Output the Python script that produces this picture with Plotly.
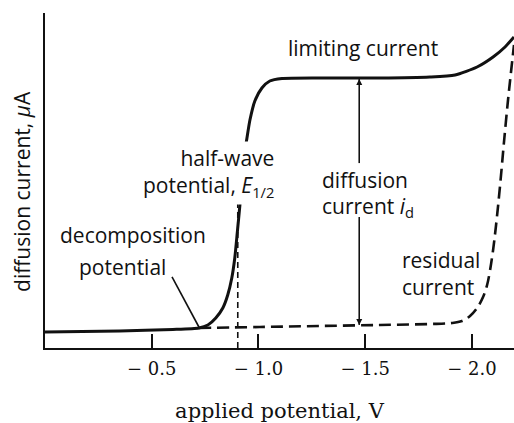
import plotly.graph_objects as go

# ---- data ----
# polarographic wave (solid): applied potential (V) and current (arbitrary µA units)
wave_potential = [0.000, -0.350, -0.599, -0.721, -0.763, -0.800, -0.833, -0.856, -0.875,
                  -0.889, -0.901, -0.913, -0.922, -0.934, -0.946, -0.960, -0.983, -1.016,
                  -1.053, -1.110, -1.288, -1.569, -1.803, -1.921, -2.024, -2.099, -2.155, -2.197]
wave_current = [0.478, 0.507, 0.552, 0.597, 0.687, 0.896, 1.194, 1.582, 2.090,
                2.687, 3.463, 4.269, 5.015, 5.761, 6.269, 6.806, 7.373, 7.761,
                7.970, 8.045, 8.060, 8.060, 8.090, 8.149, 8.388, 8.687, 8.985, 9.284]

# residual current (dashed)
residual_potential = [-0.721, -1.007, -1.288, -1.569, -1.803, -1.907, -1.953, -1.991, -2.024,
                      -2.052, -2.071, -2.085, -2.099, -2.113, -2.132, -2.151, -2.169, -2.183, -2.197]
residual_current = [0.597, 0.627, 0.657, 0.687, 0.716, 0.746, 0.806, 0.955, 1.194,
                    1.522, 1.881, 2.328, 2.925, 3.672, 4.866, 6.209, 7.403, 8.239, 9.045]

# half-wave potential marker
half_wave_potential = [-0.903, -0.903]
half_wave_current = [0.0, 4.33]

# decomposition potential pointer
decomp_pointer_potential = [-0.595, -0.721]
decomp_pointer_current = [2.12, 0.627]

# diffusion current arrow (limiting plateau and residual level)
diffusion_potential = -1.472
limiting_level = 8.03
residual_level = 0.69
arrow_gap = [5.52, 3.91]  # where the arrow is interrupted by its label

tick_values = [-0.5, -1.0, -1.5, -2.0]
tick_labels = ["\u2212 0.5", "\u2212 1.0", "\u2212 1.5", "\u2212 2.0"]

SANS = "Open Sans"
SERIF = "DejaVu Serif"
INK = "#111111"

fig = go.Figure()

fig.add_trace(go.Scatter(x=residual_potential, y=residual_current, mode="lines",
                         line=dict(color=INK, width=2.6, dash="12px,6px", shape="spline"),
                         showlegend=False, hoverinfo="skip"))
fig.add_trace(go.Scatter(x=wave_potential, y=wave_current, mode="lines",
                         line=dict(color=INK, width=3, shape="spline", smoothing=0.6),
                         showlegend=False, hoverinfo="skip"))
fig.add_trace(go.Scatter(x=half_wave_potential, y=half_wave_current, mode="lines",
                         line=dict(color=INK, width=1.6, dash="6px,4px"),
                         showlegend=False, hoverinfo="skip"))
fig.add_trace(go.Scatter(x=decomp_pointer_potential, y=decomp_pointer_current, mode="lines",
                         line=dict(color=INK, width=1.6),
                         showlegend=False, hoverinfo="skip"))

# diffusion current double arrow, split around its label
fig.add_trace(go.Scatter(x=[diffusion_potential, diffusion_potential, None,
                            diffusion_potential, diffusion_potential],
                         y=[limiting_level, arrow_gap[0], None, arrow_gap[1], residual_level],
                         mode="lines", line=dict(color=INK, width=1.6),
                         showlegend=False, hoverinfo="skip"))
fig.add_trace(go.Scatter(x=[diffusion_potential, diffusion_potential],
                         y=[limiting_level, residual_level], mode="markers",
                         marker=dict(symbol=["arrow-up", "arrow-down"], size=6, color=INK,
                                     line=dict(width=0)),
                         showlegend=False, hoverinfo="skip"))


def label(text, x, y, xanchor="center", bg=None, align="center"):
    d = dict(text=text, x=x, y=y, xref="x", yref="y", showarrow=False,
             xanchor=xanchor, yanchor="middle", align=align,
             font=dict(family=SANS, size=21, color=INK))
    if bg:
        d["bgcolor"] = bg
        d["borderpad"] = 2
    return d


annots = [
    label("limiting current", -1.491, 8.96),
    label("half-wave<br>potential, <i>E</i><sub>1/2</sub>", -1.087, 5.22,
          xanchor="right", bg="white", align="right"),
    label("decomposition", -0.411, 3.37),
    label("potential", -0.364, 2.42),
    label("diffusion", -1.288, 5.01, xanchor="left"),
    label("current <i>i</i><sub>d</sub>", -1.288, 4.22, xanchor="left"),
    label("residual<br>current", -1.663, 2.22, xanchor="left", align="left"),
    # y-axis title, placed as in the reference (slightly below the axis middle)
    dict(text="diffusion current, <i>\u03bc</i>A", xref="paper", yref="paper",
         x=-0.049, y=0.466, xanchor="center", yanchor="middle", textangle=-90,
         showarrow=False, font=dict(family=SANS, size=21, color=INK)),
]

fig.update_layout(
    width=514, height=423,
    margin=dict(l=45, r=0, t=13, b=75),
    paper_bgcolor="white", plot_bgcolor="white",
    annotations=annots,
    showlegend=False,
)
fig.update_xaxes(
    range=[0, -2.197], showgrid=False, zeroline=False,
    showline=True, linewidth=2, linecolor=INK,
    tickvals=tick_values, ticktext=tick_labels,
    ticks="inside", ticklen=14, tickwidth=2, tickcolor=INK,
    tickfont=dict(family=SERIF, size=18, color=INK),
    ticklabelstandoff=3,
    title=dict(text="applied potential, V", font=dict(family=SERIF, size=21, color=INK), standoff=30),
)
fig.update_yaxes(
    range=[0, 10], showgrid=False, zeroline=False,
    showline=True, linewidth=2, linecolor=INK,
    showticklabels=False, ticks="",
)

fig.write_html("out.html", config={"displayModeBar": False},
               post_script="document.body.style.margin='0px';")
